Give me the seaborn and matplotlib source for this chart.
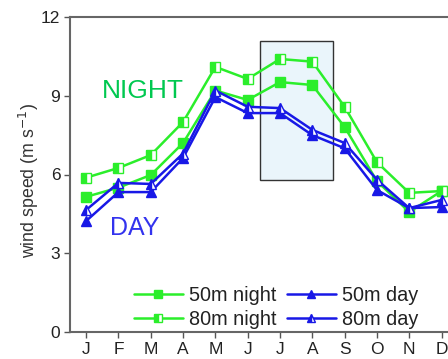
import matplotlib
matplotlib.use("Agg")
import matplotlib.pyplot as plt
import seaborn as sns
import pandas as pd
from matplotlib.patches import Rectangle

months = ["J", "F", "M", "A", "M", "J", "J", "A", "S", "O", "N", "D"]
night50 = [5.15, 5.5, 5.98, 7.2, 9.2, 8.84, 9.52, 9.41, 7.81, 5.75, 4.57, 5.37]
night80 = [5.88, 6.25, 6.74, 8.0, 10.1, 9.64, 10.4, 10.3, 8.58, 6.47, 5.3, 5.37]
day50 = [4.23, 5.33, 5.33, 6.63, 8.95, 8.34, 8.34, 7.5, 7.0, 5.41, 4.72, 4.76]
day80 = [4.65, 5.68, 5.64, 6.8, 9.2, 8.58, 8.53, 7.7, 7.2, 5.8, 4.72, 5.03]
series_names = ["50m night", "80m night", "50m day", "80m day"]
yticks = [0, 3, 6, 9, 12]

sns.set_theme(style="white")
plt.rcParams['font.family'] = ['Liberation Sans', 'DejaVu Sans']

fig = plt.figure(figsize=(4.48, 3.59), dpi=100)
ax = fig.add_axes([70/448, 27/359, 1.0 - 70/448, 315/359])

green = "#2bee2b"
blue = "#1818e6"
x = list(range(12))
df = pd.DataFrame({"x": x * 4,
                   "y": night50 + night80 + day50 + day80,
                   "s": sum([[n] * 12 for n in series_names], [])})

# Highlight box (behind lines)
ax.add_patch(Rectangle((5.39, 5.79), 2.26, 5.3, facecolor="#eaf5fb",
                       edgecolor="#333333", linewidth=1.0, zorder=0))

styles = {
    "50m night": dict(color=green, marker="s", fs="full"),
    "80m night": dict(color=green, marker="s", fs="left"),
    "50m day": dict(color=blue, marker="^", fs="full"),
    "80m day": dict(color=blue, marker="^", fs="left"),
}
for name in series_names:
    st = styles[name]
    sub = df[df.s == name]
    sns.lineplot(data=sub, x="x", y="y", ax=ax, color=st["color"], linewidth=1.8,
                 label=name, legend=False, zorder=3)
    line = ax.lines[-1]
    line.set_marker(st["marker"])
    line.set_markersize(7)
    line.set_markerfacecolor(st["color"])
    line.set_markeredgecolor(st["color"])
    line.set_markerfacecoloralt("white")
    line.set_fillstyle(st["fs"])
    line.set_markeredgewidth(1.0)

ax.set_xlim(-0.5, 11.2)
ax.set_ylim(0, 12)
ax.set_xticks(x)
ax.set_xticklabels(months)
ax.set_yticks(yticks)
ax.set_yticklabels([str(v) for v in yticks])
ax.set_xlabel("")
ax.set_ylabel("wind speed (m s$^{-1}$)", fontsize=12.8, color="#333333")
ax.yaxis.set_label_coords(-0.078, 0.48)
ax.tick_params(axis="both", which="both", direction="out", length=4, width=1,
               color="#555555", labelsize=12.5, labelcolor="#222222",
               bottom=True, left=True, pad=3)
for side in ["left", "bottom", "top"]:
    ax.spines[side].set_color("#666666")
    ax.spines[side].set_linewidth(1.5)
ax.spines["right"].set_visible(False)

ax.text(0.5, 9.2, "NIGHT", color="#00c850", fontsize=19, ha="left", va="center")
ax.text(0.74, 3.96, "DAY", color="#3333ee", fontsize=18, ha="left", va="center")

handles = ax.lines[:4]
leg = ax.legend(handles, series_names, ncol=2, loc="lower right",
                bbox_to_anchor=(0.968, -0.046), frameon=False, fontsize=14.3,
                handlelength=2.45, columnspacing=0.55, handletextpad=0.3,
                labelspacing=0.25, markerscale=0.8)
for t in leg.get_texts():
    t.set_color("#222222")

fig.savefig("out.png", dpi=100)
